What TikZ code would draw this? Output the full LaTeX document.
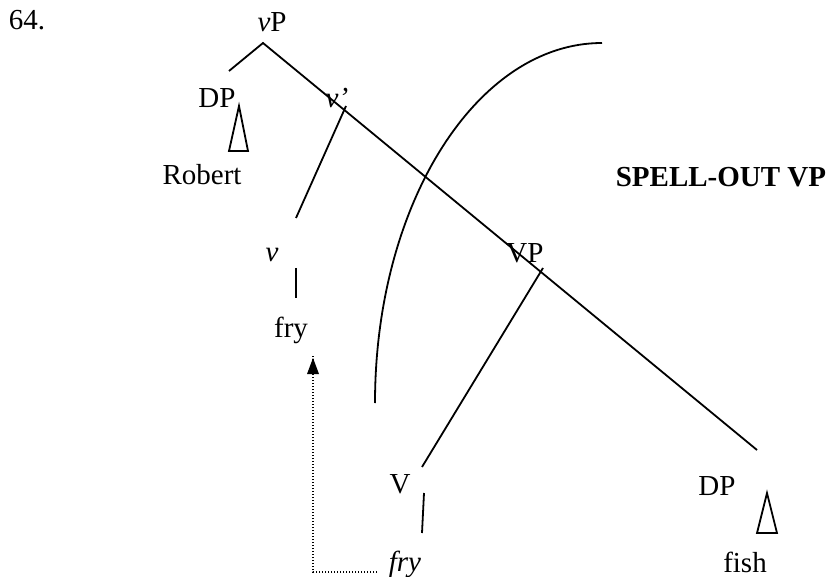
\documentclass[tikz,border=0pt]{standalone}
\usepackage{fontspec}
\setmainfont{Liberation Serif}
\usetikzlibrary{arrows.meta}
\begin{document}
\begin{tikzpicture}[x=1pt,y=-1pt,
  lbl/.style={anchor=base,inner sep=0pt,font=\fontsize{29}{31}\selectfont},
  br/.style={line width=1.8pt},
  mv/.style={line width=1.6pt,dash pattern=on 1.4pt off 1.6pt}]
\useasboundingbox (0,0) rectangle (835,577);
% labels
\node[lbl] (num) at (27,30) {64.};
\node[lbl] (vP) at (272,32) {\textit{v}P};
\node[lbl] (DP1) at (217,108) {DP};
\node[lbl] (rob) at (202,185) {Robert};
\node[lbl] (vbar) at (337,108) {\textit{v’}};
\node[lbl] (vhead) at (272,262) {\textit{v}};
\node[lbl] (fry1) at (291,337) {fry};
\node[lbl] (VP) at (525,263) {VP};
\node[lbl] (V) at (400,493) {V};
\node[lbl] (fry2) at (405,571) {\textit{fry}};
\node[lbl] (DP2) at (717,495) {DP};
\node[lbl] (fish) at (745,572) {fish};
\node[lbl] (so) at (721,187) {\textbf{SPELL-OUT VP}};
% branch points
\coordinate (vPa) at (263,43);
\coordinate (dpe) at (229,71);
\coordinate (vbarj) at (346,106);
\coordinate (ve) at (296,218);
\coordinate (vt1) at (296,268);
\coordinate (vt2) at (296,298);
\coordinate (VPj) at (543,268);
\coordinate (Ve) at (422,467);
\coordinate (Vt1) at (424,493);
\coordinate (Vt2) at (422,533);
\coordinate (dpe2) at (757,450);
% tree lines
\draw[br] (dpe) -- (vPa) -- (dpe2);
\draw[br] (vbarj) -- (ve);
\draw[br] (vt1) -- (vt2);
\draw[br] (VPj) -- (Ve);
\draw[br] (Vt1) -- (Vt2);
% triangles
\draw[br] (239,106) -- (248,151) -- (229,151) -- cycle;
\draw[br] (767,493) -- (777,533) -- (757,533) -- cycle;
% spell-out arc
\coordinate (arcTop) at (602,43);
\draw[br] (arcTop) arc[start angle=-90,end angle=-180,x radius=227,y radius=360];
% movement arrow
\coordinate (mvA) at (377,572);
\coordinate (mvB) at (313,572);
\coordinate (mvC) at (313,358);
\draw[mv] (mvA) -- (mvB) -- ([yshift=2]mvC);
\fill (mvC) -- (319,374) -- (307,374) -- cycle;
\end{tikzpicture}
\end{document}
